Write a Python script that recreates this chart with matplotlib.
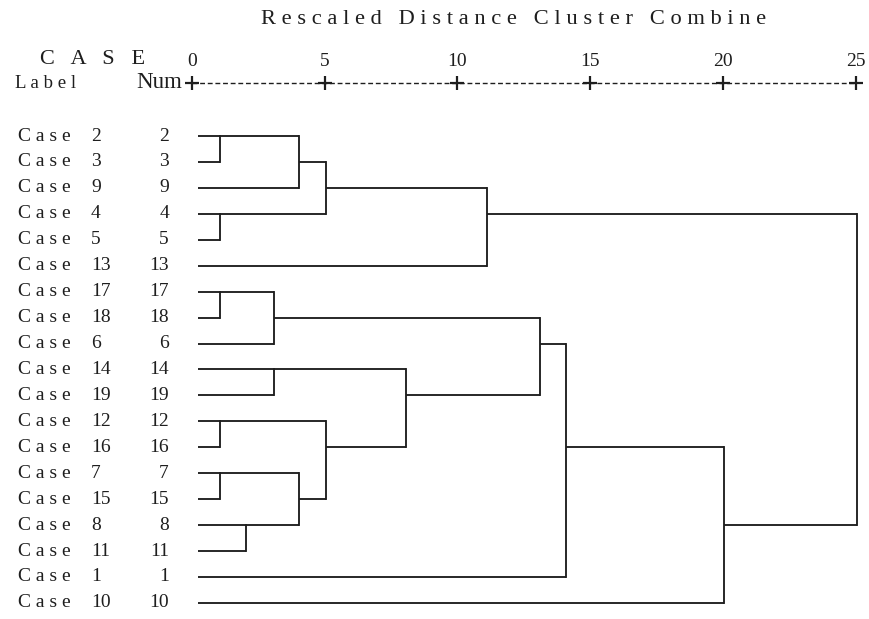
import numpy as np
import matplotlib
matplotlib.use("Agg")
import matplotlib.pyplot as plt
from matplotlib.transforms import blended_transform_factory

# leaf order (top to bottom) - case numbers
case_order = [2, 3, 9, 4, 5, 13, 17, 18, 6, 14, 19, 12, 16, 7, 15, 8, 11, 1, 10]

# merges, scipy-like: nodes 0..18 are leaf rows, new clusters get 19, 20, ...
merge_a = [0, 3, 6, 11, 13, 15, 21, 9, 19, 23, 27, 22, 26, 29, 25, 33, 34, 32]
merge_b = [1, 4, 7, 12, 14, 16, 8, 10, 2, 24, 20, 28, 30, 5, 31, 17, 18, 35]
heights = [1.05, 1.05, 1.05, 1.05, 1.05, 2.05, 3.1, 3.1, 4.05, 4.05,
           5.05, 5.05, 8.05, 11.1, 13.1, 14.1, 20.05, 25.05]

ticks = [0, 5, 10, 15, 20, 25]
leaf_x = 0.24

W, H = 869, 619
fig = plt.figure(figsize=(W / 100, H / 100), dpi=100)
plt.rcParams['font.family'] = ['Liberation Serif', 'DejaVu Serif']

# axes: x 0 at px 191.7, 25 at px 855.7; rows spaced 25.94 px, row 0 at px 136
px0, px25 = 191.7, 855.7
top_px, bot_px = 83, 612
row0, drow = 136, 25.94
ax = fig.add_axes([px0 / W, 1 - bot_px / H, (px25 - px0) / W, (bot_px - top_px) / H])
ax.set_xlim(0, 25)
ax.set_ylim((bot_px - row0) / drow, (top_px - row0) / drow)
ax.axis('off')

col = '#1e1e1e'
lw = 1.35

n = len(case_order)
node_x = {i: leaf_x for i in range(n)}
node_y = {i: float(i) for i in range(n)}
for k, (a, b, h) in enumerate(zip(merge_a, merge_b, heights)):
    ya, yb = node_y[a], node_y[b]
    ax.plot([node_x[a], h], [ya, ya], color=col, lw=lw, solid_capstyle='butt', clip_on=False)
    ax.plot([node_x[b], h], [yb, yb], color=col, lw=lw, solid_capstyle='butt', clip_on=False)
    ax.plot([h, h], [min(ya, yb), max(ya, yb)], color=col, lw=lw,
            solid_capstyle='projecting', clip_on=False)
    new = n + k
    node_x[new] = h
    node_y[new] = float(np.floor((ya + yb) / 2))

# scale line on top
y_axis = ax.get_ylim()[1]
ax.plot([0, 25], [y_axis, y_axis], color=col, lw=1.0, ls=(0, (3.5, 2.0)), clip_on=False)
ax.plot(ticks, [y_axis] * len(ticks), ls='none', marker='+', ms=10, mew=1.6,
        color=col, clip_on=False)
y_ticklab = (61 - row0) / drow
for t in ticks:
    ax.text(t, y_ticklab, str(t), ha='center', va='center', fontsize=14,
            color=col, clip_on=False)

fs = 14
trans = blended_transform_factory(fig.transFigure, ax.transData)
for i, c in enumerate(case_order):
    ax.text(18 / W, i, 'C a s e', transform=trans, ha='left', va='center',
            fontsize=fs, color=col)
    ax.text(91 / W, i, str(c), transform=trans, ha='left', va='center',
            fontsize=fs, color=col)
    ax.text(169 / W, i, str(c), transform=trans, ha='right', va='center',
            fontsize=fs, color=col)

fig.text(514 / W, 1 - 20 / H, ' '.join('Rescaled') + '   ' + ' '.join('Distance') + '   '
         + ' '.join('Cluster') + '   ' + ' '.join('Combine'),
         ha='center', va='center', fontsize=16.2, color=col)
fig.text(40 / W, 1 - 60 / H, 'C   A   S   E', ha='left', va='center', fontsize=16, color=col)
fig.text(15 / W, 1 - 83 / H, 'L a b e l', ha='left', va='center', fontsize=13.5, color=col)
fig.text(182 / W, 1 - 83 / H, 'Num', ha='right', va='center', fontsize=16.5, color=col)

fig.savefig('out.png', dpi=100)
